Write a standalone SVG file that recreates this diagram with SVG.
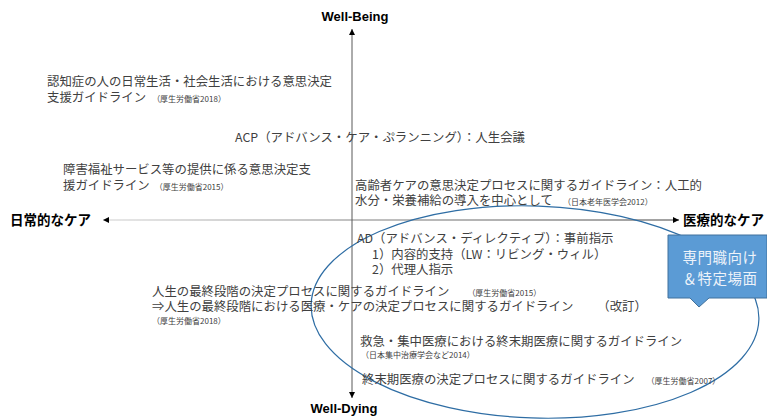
<svg xmlns="http://www.w3.org/2000/svg" width="767" height="419" viewBox="0 0 767 419">
<style>
.t{font-family:"Noto Sans CJK JP","Liberation Sans",sans-serif;font-size:12.4px;fill:#404040}
.s{font-family:"Noto Sans CJK JP","Liberation Sans",sans-serif;font-size:8px;fill:#404040}
.lb{font-family:"Noto Sans CJK JP","Liberation Sans",sans-serif;font-size:13.5px;font-weight:bold;fill:#000}
.en{font-family:"Liberation Sans",Arial,sans-serif;font-size:13px;font-weight:bold;fill:#000}
.ax{stroke:#595959;stroke-width:1;fill:none}
.call{font-family:"Noto Sans CJK JP",sans-serif;font-size:14.5px;fill:#eef3fa;text-anchor:middle;letter-spacing:0.5px}
</style>
<defs>
<marker id="ah" viewBox="0 0 10 10" refX="10" refY="5" markerWidth="6" markerHeight="6" orient="auto-start-reverse" markerUnits="userSpaceOnUse">
<path d="M0,0 L10,5 L0,10 z" fill="#000"/>
</marker>
<linearGradient id="hg" gradientUnits="userSpaceOnUse" x1="103" y1="220" x2="679" y2="220">
<stop offset="0" stop-color="#d0d0d0"/>
<stop offset="0.45" stop-color="#808080"/>
<stop offset="1" stop-color="#404040"/>
</linearGradient>
</defs>
<g id="connectors">
<line x1="103" y1="220" x2="679" y2="220" stroke="url(#hg)" stroke-width="1" marker-start="url(#ah)" marker-end="url(#ah)"/>
<line class="ax" x1="352" y1="398" x2="352" y2="29" marker-start="url(#ah)" marker-end="url(#ah)"/>
</g>
<g id="axis-labels">
<text class="en" x="355" y="21" text-anchor="middle">Well-Being</text>
<text class="en" x="344" y="413" text-anchor="middle">Well-Dying</text>
<text class="lb" x="10" y="225">日常的なケア</text>
<text class="lb" x="683" y="225">医療的なケア</text>
</g>
<g id="scope-ellipse">
<ellipse cx="535" cy="312" rx="224" ry="106" transform="rotate(2 535 312)" fill="none" stroke="#2E6DA4" stroke-width="1.2"/>
</g>
<g id="n-dementia">
<text class="t" x="47" y="86">認知症の人の日常生活・社会生活における意思決定</text>
<text class="t" x="47" y="102">支援ガイドライン<tspan class="s" dx="6">（厚生労働省2018）</tspan></text>
</g>
<g id="n-acp">
<text class="t" x="235" y="142">ACP（アドバンス・ケア・ぷランニング）：人生会議</text>
</g>
<g id="n-disability">
<text class="t" x="63" y="174">障害福祉サービス等の提供に係る意思決定支</text>
<text class="t" x="63" y="190">援ガイドライン<tspan class="s" dx="5">（厚生労働省2015）</tspan></text>
</g>
<g id="n-elderly">
<text class="t" x="355" y="190">高齢者ケアの意思決定プロセスに関するガイドライン：人工的</text>
<text class="t" x="355" y="205">水分・栄養補給の導入を中心として<tspan class="s" dx="10">（日本老年医学会2012）</tspan></text>
</g>
<g id="n-ad">
<text class="t" x="357" y="243">AD（アドバンス・ディレクティブ）：事前指示</text>
<text class="t" x="372" y="259">1）内容的支持（LW：リビング・ウィル）</text>
<text class="t" x="372" y="274">2）代理人指示</text>
</g>
<g id="n-endoflife">
<text class="t" x="152" y="296">人生の最終段階の決定プロセスに関するガイドライン<tspan class="s" dx="18">（厚生労働省2015）</tspan></text>
<text class="t" x="152" y="311">⇒人生の最終段階における医療・ケアの決定プロセスに関するガイドライン<tspan dx="24">（改訂）</tspan></text>
<text class="s" x="152" y="324">（厚生労働省2018）</text>
</g>
<g id="n-emergency">
<text class="t" x="360" y="346">救急・集中医療における終末期医療に関するガイドライン</text>
<text class="s" x="361" y="358">（日本集中治療学会など2014）</text>
</g>
<g id="n-terminal">
<text class="t" x="362" y="384">終末期医療の決定プロセスに関するガイドライン<tspan class="s" dx="12">（厚生労働省2007）</tspan></text>
</g>
<g id="n-callout">
<path d="M668,235 H767 V298 H709 L699,307 L690,298 H668 Z" fill="#5B9BD5" stroke="#41719C" stroke-width="1"/>
<text class="call" x="720" y="263">専門職向け</text>
<text class="call" x="720" y="284">＆特定場面</text>
</g>
</svg>
